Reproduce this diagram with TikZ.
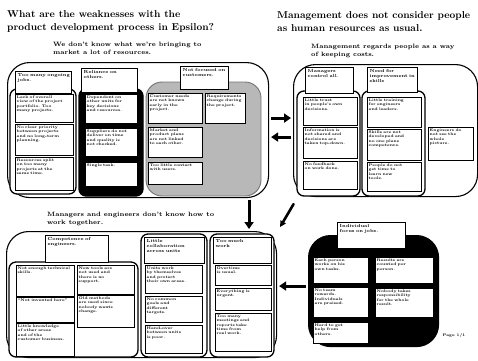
\documentclass[tikz,border=0pt]{standalone}
\usepackage{tikz}
\usetikzlibrary{arrows.meta,positioning,calc}
\tikzset{
  card/.style={draw=black, fill=white, line width=0.6pt, inner sep=0pt},
  cardtxt/.style={font=\fontsize{3.8}{4.4}\selectfont\bfseries, align=left, inner sep=1.5pt},
  hdrtxt/.style={font=\fontsize{4.4}{5}\selectfont\bfseries, align=left, inner sep=2.5pt},
  ttl/.style={font=\fontsize{10}{13.5}\selectfont\bfseries, align=left, inner sep=0pt},
  sub/.style={font=\fontsize{6.3}{8}\selectfont\bfseries, align=left, inner sep=0pt},
  cluster/.style={draw=black, line width=1.1pt, rounded corners=22pt, inner sep=0pt},
  colframe/.style={draw=black, fill=white, line width=1.3pt, rounded corners=7pt},
  colblack/.style={draw=black, fill=black, line width=1.3pt, rounded corners=7pt},
  colgray/.style={draw=black!55, fill=black!28, line width=0.9pt, rounded corners=16pt},
  blkarr/.style={-{Triangle[length=7pt,width=9pt]}, line width=3pt, shorten <=2pt, shorten >=2pt},
  featharr/.style={-{Triangle[length=6pt,width=6pt]}, line width=2.6pt, line cap=round}
}
% box with its text set at the top left corner
\newcommand{\card}[6][cardtxt]{%
  \node[card, anchor=north west, minimum width=#4pt, minimum height=#5pt] (#2) at (#3) {};
  \pgfmathsetmacro\cardtw{#4-3}%
  \node[#1, anchor=north west, text width=\cardtw pt] at (#2.north west) {#6};%
}

\begin{document}
\begin{tikzpicture}[x=1pt, y=-1pt]
  \useasboundingbox (0,0) rectangle (478,360);

  % titles
  \node[ttl, anchor=north west] (ttlweak) at (7,10) {What are the weaknesses with the\\product development process in Epsilon?};
  \node[sub, anchor=north west] (subweak) at (53,42) {We don't know what we're bringing to\\market a lot of resources.};
  \node[ttl, anchor=north west] (ttlmgmt) at (277,11) {Management does not consider people\\as human resources as usual.};
  \node[sub, anchor=north west] (submgmt) at (311,44) {Management regards people as a way\\of keeping costs.};
  \node[sub, anchor=north west] (subteam) at (47,212) {Managers and engineers don't know how to\\work together.};
  \node[cardtxt, anchor=west] (page) at (441,336) {Page 1/1};

  % clusters
  \node[cluster, minimum width=261pt, minimum height=135pt, anchor=north west] (weak) at (7,62) {};
  \node[cluster, minimum width=184pt, minimum height=132pt, anchor=north west] (mgmt) at (293,64) {};
  \node[cluster, minimum width=270pt, minimum height=126pt, anchor=north west] (team) at (6,231) {};
  \node[cluster, fill=black, minimum width=130pt, minimum height=111pt, anchor=north west] (indiv) at (308,235) {};

  % weaknesses
  \draw[colframe] (10,89) rectangle (76,194);
  \draw[colblack] (79,89) rectangle (143,196);
  \draw[colgray] (146,82) rectangle (261,196);
  \card[hdrtxt]{wh1}{15,71}{56}{22}{Too many ongoing\\jobs.}
  \card[hdrtxt]{wh2}{81,68}{56}{24}{Reliance on\\others.}
  \card[hdrtxt]{wh3}{180,66}{48}{23}{Not focused on\\customers.}
  \card{w11}{15,94}{58}{28}{Lack of overall\\view of the project\\portfolio. Too\\many projects.}
  \card{w12}{15,124}{58}{31}{No clear priority\\between projects\\and no long-term\\planning.}
  \card{w13}{15,157}{58}{33}{Resources split\\on too many\\projects at the\\same time.}
  \card{w21}{85,94}{52}{29}{Dependent on\\other units for\\key decisions\\and resources.}
  \card{w22}{85,128}{52}{28}{Suppliers do not\\deliver on time\\and quality is\\not checked.}
  \card{w23}{85,162}{52}{24}{Single task.}
  \card{w31}{148,93}{54}{30}{Customer needs\\are not known\\early in the\\project.}
  \card{w32}{148,127}{54}{30}{Market and\\product plans\\are not linked\\to each other.}
  \card{w33}{148,162}{54}{22}{Too little contact\\with users.}
  \card{w34}{205,93}{40}{30}{Requirements\\change during\\the project.}

  % management
  \draw[colframe] (297,91) rectangle (360,196);
  \draw[colframe] (362,91) rectangle (425,196);
  \card[hdrtxt]{mh1}{305,67}{48}{26}{Managers\\control all.}
  \card{m11}{303,97}{54}{28}{Little trust\\in people's own\\decisions.}
  \card{m12}{303,127}{54}{31}{Information is\\not shared and\\decisions are\\taken top-down.}
  \card{m13}{303,161}{54}{28}{No feedback\\on work done.}
  \begin{scope}[card/.append style={line width=1.1pt}]
    \card[hdrtxt]{mh2}{367,67}{50}{25}{Need for\\improvement in\\skills}
    \card{m21}{367,97}{54}{30}{Little training\\for engineers\\and leaders.}
    \card{m22}{367,129}{54}{31}{Skills are not\\developed and\\no one plans\\competence.}
    \card{m23}{367,162}{54}{29}{People do not\\get time to\\learn new\\tools.}
  \end{scope}
  \card{m31}{428,127}{45}{33}{Engineers do\\not see the\\whole\\picture.}

  % working together
  \draw[colframe] (9,262) rectangle (138,357);
  \draw[colframe] (141,234) rectangle (207,357);
  \draw[colframe] (210,234) rectangle (274,357);
  \card[hdrtxt]{th1}{45,235}{63}{27}{Competence of\\engineers.}
  \card{t11}{16,265}{58}{31}{Not enough technical\\skills.}
  \card{t12}{16,297}{58}{25}{``Not invented here''}
  \card{t13}{16,323}{58}{33}{Little knowledge\\of other areas\\and of the\\customer business.}
  \draw[line width=2pt] (t13.north west) -- (t13.north east);
  \card{t14}{77,265}{57}{29}{New tools are\\not used and\\there is no\\support.}
  \card{t15}{77,295}{57}{32}{Old methods\\are used since\\nobody wants\\change.}
  \card[hdrtxt]{th2}{144,237}{60}{26}{Little\\collaboration\\across units}
  \card{t21}{145,265}{57}{28}{Units work\\by themselves\\and protect\\their own areas.}
  \card{t22}{145,296}{57}{26}{No common\\goals and\\different\\targets.}
  \card{t23}{145,325}{57}{28}{Hand-over\\between units\\is poor.}
  \card[hdrtxt]{th3}{213,237}{58}{26}{Too much\\work}
  \card{t31}{215,265}{56}{20}{Overtime\\is usual.}
  \card{t32}{215,288}{56}{22}{Everything is\\urgent.}
  \card{t33}{215,313}{56}{38}{Too many\\meetings and\\reports take\\time from\\real work.}

  % individual focus
  \card[hdrtxt]{ih}{337,222}{68}{26}{Individual\\focus on jobs.}
  \card{i11}{313,257}{55}{26}{Each person\\works on his\\own tasks.}
  \card{i12}{375,257}{58}{26}{Results are\\counted per\\person.}
  \card{i21}{313,287}{55}{30}{No team\\rewards.\\Individuals\\are praised.}
  \card{i22}{375,288}{58}{29}{Nobody takes\\responsibility\\for the whole\\result.}
  \card{i31}{313,322}{55}{21}{Hard to get\\help from\\others.}

  % links
  \draw[blkarr] ([yshift=12pt]weak.east) -- ([yshift=12pt]weak.east -| mgmt.west);
  \draw[blkarr] ([yshift=-7pt]weak.east -| mgmt.west) -- ([yshift=-7pt]weak.east);
  \draw[blkarr] ([xshift=111pt]weak.south) -- ([xshift=111pt]weak.south |- team.north);
  \draw[featharr] ([xshift=-92pt,yshift=-7pt]mgmt.south) -- ([xshift=3pt,yshift=4pt]team.north east);
  \draw[blkarr] ([yshift=5pt]indiv.west) -- ([yshift=5pt]indiv.west -| team.east);
\end{tikzpicture}
\end{document}
